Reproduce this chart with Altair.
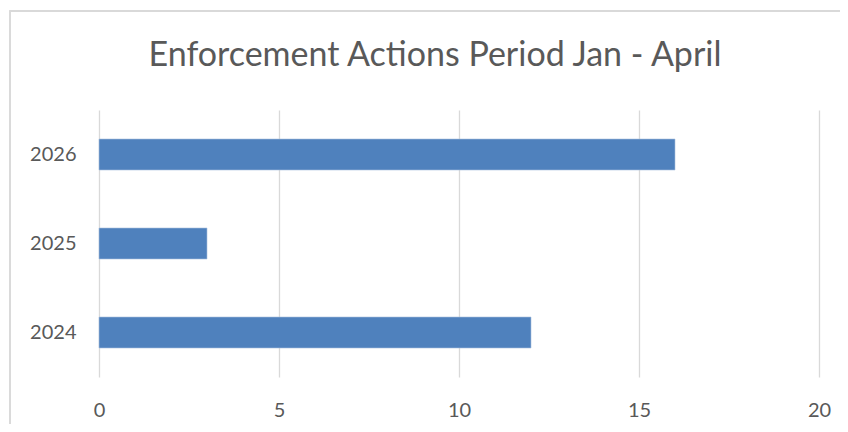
import altair as alt
import pandas as pd

years = ["2026", "2025", "2024"]
actions = [16, 3, 12]
x_ticks = [0, 5, 10, 15, 20]
title_text = "Enforcement Actions Period Jan - April"

df = pd.DataFrame({"year": years, "actions": actions})
title_df = pd.DataFrame({"t": [title_text]})

FONT = "Lato"
GRAY = "#595959"
GRID = "#d9d9d9"

bars = alt.Chart(df).mark_bar(color="#4f81bd", stroke="#a7c0de", strokeWidth=0.6).encode(
    x=alt.X(
        "actions:Q",
        scale=alt.Scale(domain=[0, 20], nice=False),
        axis=alt.Axis(
            values=x_ticks,
            title=None,
            domain=False,
            ticks=False,
            grid=True,
            gridColor=GRID,
            gridWidth=1.3,
            labelFont=FONT,
            labelFontSize=20,
            labelColor=GRAY,
            labelPadding=23,
            labelFlush=False,
        ),
    ),
    y=alt.Y(
        "year:N",
        sort=years,
        scale=alt.Scale(paddingInner=0.652, paddingOuter=0.326),
        axis=alt.Axis(
            title=None,
            domain=False,
            ticks=False,
            labelFont=FONT,
            labelFontSize=20,
            labelColor=GRAY,
            labelPadding=23,
        ),
    ),
)

border = alt.Chart(df).mark_rect(
    fill=None, stroke=GRID, strokeWidth=1.3, clip=False
).encode(
    x=alt.value(-89), x2=alt.value(820), y=alt.value(-99), y2=alt.value(400)
)

title = alt.Chart(title_df).mark_text(
    font=FONT, fontSize=34, color=GRAY, align="center", baseline="alphabetic"
).encode(
    text="t:N", x=alt.value(336), y=alt.value(-44)
)

chart = (
    alt.layer(border, bars, title)
    .properties(
        width=720,
        height=267,
        background="white",
        autosize=alt.AutoSizeParams(type="none"),
        padding={"left": 91, "top": 102, "right": 21, "bottom": 47},
    )
    .configure_view(strokeWidth=0)
)

chart.save("out.html", embed_options={"renderer": "svg", "actions": False})
